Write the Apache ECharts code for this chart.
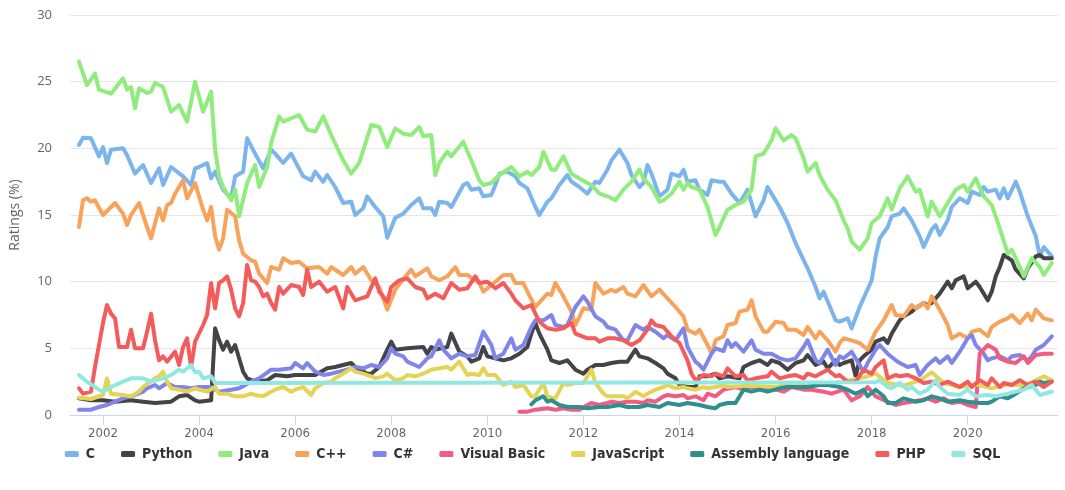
<!DOCTYPE html>
<html><head><meta charset="utf-8">
<script src="https://cdn.jsdelivr.net/npm/echarts@6/dist/echarts.min.js"></script>
<style>html,body{margin:0;padding:0;background:#fff}#c{width:1065px;height:490px}</style>
</head><body><div id="c"></div>
<script>
const yearTicks = [2002,2004,2006,2008,2010,2012,2014,2016,2018,2020];
const yTicks = [0,5,10,15,20,25,30];
const names = ["C","Python","Java","C++","C#","Visual Basic","JavaScript","Assembly language","PHP","SQL"];
const colors = ["#7cb5ec","#434348","#90ed7d","#f7a35c","#8085e9","#f15c80","#e4d354","#2b908f","#f45b5b","#91e8e1"];

const cData = [["2001-07",20.25],["2001-08",20.8],["2001-10",20.75],["2001-12",19.4],["2002-01",20.1],["2002-02",18.9],["2002-03",19.9],["2002-06",20.0],["2002-07",19.5],["2002-09",18.1],["2002-11",18.75],["2003-01",17.4],["2003-03",18.5],["2003-04",17.25],["2003-06",18.6],["2003-09",17.9],["2003-11",17.25],["2003-12",18.5],["2004-01",18.6],["2004-03",18.9],["2004-04",17.75],["2004-05",18.25],["2004-07",16.9],["2004-09",16.25],["2004-10",17.9],["2004-12",18.25],["2005-01",20.75],["2005-03",19.6],["2005-05",18.5],["2005-07",19.9],["2005-08",19.6],["2005-10",18.9],["2005-12",19.6],["2006-03",17.9],["2006-05",17.6],["2006-06",18.25],["2006-08",17.5],["2006-09",18.0],["2006-11",17.1],["2007-01",15.9],["2007-03",16.0],["2007-04",15.0],["2007-06",15.5],["2007-07",16.4],["2007-09",15.6],["2007-11",14.9],["2007-12",13.3],["2008-02",14.8],["2008-04",15.1],["2008-06",15.75],["2008-08",16.25],["2008-09",15.5],["2008-11",15.5],["2008-12",15.0],["2009-01",16.0],["2009-03",15.9],["2009-04",15.6],["2009-07",17.25],["2009-08",17.4],["2009-09",16.9],["2009-11",17.0],["2009-12",16.4],["2010-02",16.5],["2010-03",17.25],["2010-04",18.1],["2010-06",18.25],["2010-08",17.9],["2010-09",17.4],["2010-11",17.0],["2011-01",15.6],["2011-02",15.0],["2011-04",16.0],["2011-05",16.25],["2011-06",16.75],["2011-07",17.25],["2011-09",18.0],["2011-10",17.5],["2011-12",17.1],["2012-02",16.6],["2012-04",17.5],["2012-05",17.4],["2012-07",18.4],["2012-08",19.1],["2012-10",19.9],["2012-12",18.9],["2013-01",18.0],["2013-03",17.1],["2013-04",17.4],["2013-05",18.75],["2013-06",18.1],["2013-08",16.4],["2013-10",16.9],["2013-11",18.1],["2014-01",17.9],["2014-02",18.4],["2014-03",17.5],["2014-05",17.6],["2014-06",16.9],["2014-08",16.5],["2014-09",17.6],["2014-11",17.5],["2014-12",17.5],["2015-02",16.6],["2015-04",15.9],["2015-06",16.9],["2015-08",14.9],["2015-10",16.1],["2015-11",17.1],["2016-02",15.6],["2016-04",14.4],["2016-06",12.9],["2016-07",12.25],["2016-09",11.0],["2016-11",9.6],["2016-12",8.75],["2017-01",9.25],["2017-04",7.1],["2017-05",7.0],["2017-07",7.25],["2017-08",6.5],["2017-10",8.1],["2018-01",10.1],["2018-02",11.9],["2018-03",13.25],["2018-05",14.1],["2018-06",14.9],["2018-08",15.1],["2018-09",15.5],["2018-11",14.6],["2019-01",13.4],["2019-02",12.6],["2019-04",13.9],["2019-05",14.25],["2019-06",13.5],["2019-08",14.6],["2019-09",15.6],["2019-11",16.25],["2020-01",15.9],["2020-02",16.75],["2020-04",16.5],["2020-05",17.1],["2020-06",16.75],["2020-08",16.9],["2020-09",16.25],["2020-10",17.0],["2020-11",16.25],["2021-01",17.5],["2021-02",16.75],["2021-04",14.9],["2021-06",13.4],["2021-07",11.9],["2021-08",12.6],["2021-10",11.9]];

const pythonData = [["2001-07",1.25],["2001-10",1.1],["2002-01",1.1],["2002-04",1.0],["2002-08",1.1],["2002-11",1.0],["2003-02",0.9],["2003-06",1.0],["2003-08",1.4],["2003-10",1.5],["2003-12",1.1],["2004-01",1.0],["2004-04",1.1],["2004-05",6.5],["2004-06",5.6],["2004-07",4.9],["2004-08",5.5],["2004-09",4.75],["2004-10",5.25],["2004-12",3.25],["2005-01",2.75],["2005-03",2.5],["2005-06",2.6],["2005-08",3.0],["2005-11",2.9],["2006-01",3.0],["2006-04",3.0],["2006-06",3.0],["2006-09",3.5],["2006-11",3.6],["2007-01",3.75],["2007-03",3.9],["2007-04",3.6],["2007-07",3.1],["2007-08",3.1],["2007-10",3.6],["2007-12",4.9],["2008-01",5.5],["2008-02",4.9],["2008-05",5.0],["2008-09",5.1],["2008-10",4.6],["2008-11",5.1],["2008-12",4.9],["2009-03",5.1],["2009-04",6.1],["2009-06",4.75],["2009-08",4.4],["2009-09",4.0],["2009-11",4.25],["2009-12",5.1],["2010-01",4.4],["2010-03",4.25],["2010-05",4.1],["2010-07",4.25],["2010-09",4.6],["2010-11",5.1],["2010-12",6.1],["2011-01",6.9],["2011-02",6.1],["2011-04",4.9],["2011-05",4.1],["2011-07",3.9],["2011-09",4.1],["2011-10",3.75],["2011-11",3.4],["2012-01",3.1],["2012-02",3.4],["2012-04",3.75],["2012-06",3.75],["2012-08",3.9],["2012-10",4.0],["2012-12",4.0],["2013-02",4.9],["2013-03",4.4],["2013-05",4.25],["2013-07",3.9],["2013-09",3.5],["2013-10",3.1],["2013-12",2.75],["2014-01",2.25],["2014-03",2.1],["2014-05",2.1],["2014-06",2.9],["2014-08",2.9],["2014-10",3.1],["2014-11",2.75],["2015-01",2.9],["2015-04",2.75],["2015-05",3.6],["2015-07",3.9],["2015-09",4.1],["2015-11",3.75],["2015-12",4.1],["2016-02",3.9],["2016-04",3.4],["2016-06",3.9],["2016-08",4.1],["2016-09",4.5],["2016-11",3.75],["2017-01",4.0],["2017-02",3.5],["2017-04",4.1],["2017-05",3.75],["2017-06",3.9],["2017-08",4.1],["2017-09",2.9],["2017-10",4.1],["2017-11",4.4],["2018-01",4.9],["2018-02",5.5],["2018-04",5.75],["2018-05",5.4],["2018-06",6.1],["2018-08",7.1],["2018-09",7.4],["2018-11",7.75],["2018-12",8.0],["2019-02",8.4],["2019-03",8.25],["2019-04",8.4],["2019-06",9.1],["2019-08",10.0],["2019-09",9.5],["2019-10",10.1],["2019-12",10.4],["2020-01",9.5],["2020-03",10.0],["2020-04",9.6],["2020-06",8.6],["2020-07",9.25],["2020-08",10.4],["2020-09",11.1],["2020-10",12.0],["2020-12",11.6],["2021-01",10.9],["2021-03",10.25],["2021-04",11.0],["2021-06",11.9],["2021-07",12.0],["2021-08",11.75],["2021-10",11.75]];

const javaData = [["2001-07",26.5],["2001-09",24.75],["2001-11",25.6],["2001-12",24.4],["2002-03",24.1],["2002-06",25.25],["2002-07",24.4],["2002-08",24.6],["2002-09",23.0],["2002-10",24.5],["2002-12",24.15],["2003-01",24.25],["2003-02",24.9],["2003-04",24.6],["2003-06",22.75],["2003-08",23.25],["2003-10",22.0],["2003-12",25.0],["2004-02",22.75],["2004-04",24.25],["2004-05",19.9],["2004-06",17.9],["2004-07",17.1],["2004-09",16.1],["2004-10",16.9],["2004-11",14.9],["2005-01",17.4],["2005-03",18.75],["2005-04",17.1],["2005-06",18.6],["2005-07",20.4],["2005-09",22.4],["2005-10",22.0],["2006-02",22.5],["2006-04",21.4],["2006-06",21.25],["2006-08",22.4],["2006-10",21.0],["2007-01",19.1],["2007-03",18.1],["2007-05",18.9],["2007-08",21.75],["2007-10",21.6],["2007-12",20.1],["2008-02",21.5],["2008-04",21.1],["2008-06",21.0],["2008-08",21.6],["2008-09",20.9],["2008-11",21.0],["2008-12",18.0],["2009-01",18.9],["2009-03",19.75],["2009-04",19.4],["2009-07",20.5],["2009-09",19.1],["2009-11",17.6],["2009-12",17.25],["2010-02",17.4],["2010-04",18.0],["2010-07",18.6],["2010-09",17.9],["2010-11",18.25],["2010-12",18.0],["2011-02",18.6],["2011-03",19.75],["2011-05",18.4],["2011-06",18.4],["2011-08",19.4],["2011-10",18.1],["2011-11",17.9],["2012-02",17.4],["2012-03",17.25],["2012-05",16.6],["2012-07",16.4],["2012-09",16.1],["2012-11",16.9],["2013-01",17.5],["2013-03",18.4],["2013-04",17.75],["2013-06",17.1],["2013-08",16.0],["2013-09",16.1],["2013-11",16.6],["2014-01",17.5],["2014-02",16.9],["2014-03",17.4],["2014-04",17.1],["2014-06",16.9],["2014-08",15.6],["2014-10",13.5],["2014-11",14.1],["2015-01",15.4],["2015-03",15.75],["2015-05",16.0],["2015-07",16.9],["2015-08",19.4],["2015-10",19.6],["2015-12",20.6],["2016-01",21.5],["2016-03",20.6],["2016-05",21.0],["2016-06",20.75],["2016-08",19.25],["2016-09",18.25],["2016-11",18.9],["2016-12",18.0],["2017-02",16.9],["2017-04",16.1],["2017-06",14.6],["2017-07",14.0],["2017-08",13.0],["2017-10",12.4],["2017-12",13.25],["2018-01",14.4],["2018-03",14.9],["2018-05",16.25],["2018-06",15.4],["2018-08",17.0],["2018-10",17.9],["2018-12",16.75],["2019-01",16.9],["2019-03",14.9],["2019-04",16.0],["2019-06",14.9],["2019-09",16.4],["2019-10",16.9],["2019-12",17.25],["2020-01",16.75],["2020-03",17.75],["2020-05",16.4],["2020-07",15.75],["2020-09",14.0],["2020-11",12.1],["2020-12",12.4],["2021-02",11.1],["2021-03",10.4],["2021-05",11.75],["2021-07",11.1],["2021-08",10.5],["2021-10",11.4]];

const cppData = [["2001-07",14.1],["2001-08",16.1],["2001-09",16.25],["2001-10",16.0],["2001-11",16.1],["2002-01",15.0],["2002-04",15.9],["2002-06",15.1],["2002-07",14.25],["2002-08",15.0],["2002-10",15.9],["2002-12",14.1],["2003-01",13.25],["2003-03",15.5],["2003-04",14.6],["2003-05",15.75],["2003-06",15.9],["2003-07",16.6],["2003-09",17.6],["2003-10",16.25],["2003-12",17.4],["2004-01",16.4],["2004-02",15.4],["2004-03",14.6],["2004-04",15.6],["2004-05",13.4],["2004-06",12.4],["2004-07",13.25],["2004-08",15.4],["2004-10",14.9],["2004-11",13.1],["2004-12",12.1],["2005-02",11.6],["2005-03",11.5],["2005-04",10.6],["2005-06",9.9],["2005-07",11.1],["2005-09",10.9],["2005-10",11.75],["2005-12",11.4],["2006-02",11.5],["2006-04",11.0],["2006-07",11.1],["2006-09",10.6],["2006-10",11.1],["2007-01",10.5],["2007-03",11.1],["2007-04",10.6],["2007-06",11.1],["2007-08",10.1],["2007-10",9.6],["2007-12",7.9],["2008-02",9.4],["2008-04",10.2],["2008-06",10.9],["2008-07",10.4],["2008-10",11.0],["2008-11",10.4],["2009-01",10.1],["2009-03",10.4],["2009-05",11.1],["2009-06",10.5],["2009-08",10.5],["2009-10",10.1],["2009-11",9.9],["2009-12",9.25],["2010-02",9.75],["2010-03",10.0],["2010-05",10.5],["2010-07",10.5],["2010-08",9.9],["2010-10",9.9],["2010-11",9.25],["2011-01",8.1],["2011-04",9.1],["2011-05",9.0],["2011-06",9.9],["2011-08",8.9],["2011-10",7.75],["2011-11",6.75],["2012-01",8.0],["2012-03",7.9],["2012-04",9.9],["2012-06",9.1],["2012-08",9.4],["2012-09",9.25],["2012-11",9.6],["2012-12",9.1],["2013-02",8.9],["2013-04",9.75],["2013-06",8.9],["2013-08",9.4],["2013-10",8.75],["2013-12",8.1],["2014-02",7.4],["2014-03",6.4],["2014-05",6.1],["2014-06",6.4],["2014-08",5.25],["2014-09",4.6],["2014-10",5.6],["2014-12",5.9],["2015-01",6.75],["2015-03",6.9],["2015-04",7.75],["2015-06",7.9],["2015-07",8.6],["2015-08",7.4],["2015-10",6.25],["2015-11",6.25],["2016-01",7.0],["2016-03",6.9],["2016-04",6.4],["2016-06",6.4],["2016-08",6.0],["2016-09",6.6],["2016-11",5.75],["2016-12",6.25],["2017-02",5.6],["2017-04",4.75],["2017-05",5.4],["2017-06",5.75],["2017-08",5.6],["2017-10",5.4],["2017-12",4.9],["2018-01",5.6],["2018-02",6.25],["2018-04",7.1],["2018-06",8.25],["2018-07",7.5],["2018-09",7.4],["2018-11",8.25],["2018-12",8.0],["2019-02",8.4],["2019-03",8.0],["2019-04",8.9],["2019-06",7.9],["2019-08",6.75],["2019-09",5.75],["2019-11",6.1],["2020-01",5.75],["2020-02",6.25],["2020-04",6.4],["2020-06",5.9],["2020-07",6.6],["2020-09",7.0],["2020-11",7.25],["2020-12",7.5],["2021-02",6.9],["2021-04",7.6],["2021-05",7.1],["2021-06",7.9],["2021-08",7.25],["2021-10",7.1]];

const csharpData = [["2001-07",0.4],["2001-10",0.4],["2001-12",0.6],["2002-02",0.75],["2002-04",1.0],["2002-06",1.25],["2002-09",1.5],["2002-11",1.75],["2002-12",2.0],["2003-02",2.25],["2003-03",2.0],["2003-05",2.4],["2003-07",2.1],["2003-09",2.1],["2003-11",2.0],["2004-01",2.1],["2004-04",2.1],["2004-06",1.75],["2004-09",1.9],["2004-11",2.0],["2005-02",2.5],["2005-04",2.75],["2005-07",3.4],["2005-09",3.4],["2005-12",3.5],["2006-01",3.9],["2006-03",3.5],["2006-04",3.9],["2006-06",3.25],["2006-08",3.0],["2006-10",3.1],["2006-12",3.25],["2007-02",3.4],["2007-04",3.6],["2007-06",3.5],["2007-08",3.75],["2007-10",3.6],["2007-12",4.25],["2008-01",5.0],["2008-02",4.6],["2008-04",4.4],["2008-05",4.0],["2008-08",3.6],["2008-10",4.25],["2008-11",4.4],["2009-01",5.6],["2009-02",4.9],["2009-04",4.25],["2009-06",4.6],["2009-08",4.4],["2009-10",4.5],["2009-12",6.25],["2010-02",5.25],["2010-03",4.25],["2010-05",4.6],["2010-07",5.75],["2010-08",4.9],["2010-10",5.25],["2010-12",6.6],["2011-01",7.1],["2011-03",7.1],["2011-05",7.5],["2011-06",6.75],["2011-08",6.6],["2011-09",6.75],["2011-11",8.1],["2012-01",8.9],["2012-02",8.5],["2012-04",7.4],["2012-06",7.0],["2012-07",6.6],["2012-09",6.4],["2012-11",5.6],["2012-12",5.6],["2013-02",6.75],["2013-04",6.4],["2013-05",6.6],["2013-07",6.25],["2013-09",5.75],["2013-10",6.0],["2013-12",5.6],["2014-02",6.5],["2014-03",5.1],["2014-05",4.0],["2014-06",3.75],["2014-07",3.4],["2014-09",4.6],["2014-10",5.0],["2014-12",4.8],["2015-01",5.6],["2015-02",5.1],["2015-03",5.4],["2015-05",4.75],["2015-07",5.6],["2015-08",4.9],["2015-10",4.6],["2015-12",4.6],["2016-02",4.25],["2016-04",4.1],["2016-06",4.25],["2016-08",5.1],["2016-09",5.6],["2016-11",4.1],["2016-12",3.9],["2017-02",4.9],["2017-04",3.75],["2017-05",4.4],["2017-06",4.25],["2017-08",4.75],["2017-10",3.75],["2017-11",3.25],["2017-12",3.9],["2018-02",4.9],["2018-03",5.25],["2018-05",4.6],["2018-07",4.1],["2018-08",3.9],["2018-10",3.6],["2018-12",3.75],["2019-01",3.0],["2019-03",3.75],["2019-05",4.25],["2019-06",3.9],["2019-08",4.4],["2019-09",3.9],["2019-11",4.75],["2020-01",5.75],["2020-02",6.0],["2020-03",5.25],["2020-05",4.6],["2020-06",4.1],["2020-07",4.25],["2020-09",4.4],["2020-11",4.1],["2020-12",4.4],["2021-02",4.5],["2021-04",4.1],["2021-05",4.4],["2021-06",4.9],["2021-08",5.25],["2021-10",5.9]];

const vbData = [["2010-09",0.25],["2010-11",0.25],["2011-01",0.4],["2011-04",0.5],["2011-06",0.4],["2011-08",0.5],["2011-10",0.4],["2011-12",0.4],["2012-02",0.75],["2012-03",0.9],["2012-05",0.75],["2012-07",0.9],["2012-08",1.0],["2012-10",0.9],["2012-12",1.0],["2013-02",1.0],["2013-04",0.9],["2013-05",1.1],["2013-07",1.0],["2013-09",1.4],["2013-10",1.5],["2013-12",1.4],["2014-02",1.5],["2014-03",1.25],["2014-05",1.4],["2014-07",1.1],["2014-08",1.6],["2014-10",1.4],["2014-12",1.9],["2015-03",2.1],["2015-05",1.9],["2015-07",2.1],["2015-10",1.9],["2015-12",2.0],["2016-03",1.75],["2016-05",2.1],["2016-08",1.9],["2016-10",1.9],["2017-01",1.75],["2017-03",1.6],["2017-06",1.9],["2017-08",1.1],["2017-10",1.4],["2017-12",2.1],["2018-02",1.4],["2018-05",1.0],["2018-07",0.75],["2018-09",0.9],["2018-11",1.0],["2019-01",1.1],["2019-03",1.25],["2019-05",1.0],["2019-07",1.25],["2019-09",0.9],["2019-11",1.0],["2020-01",0.75],["2020-03",0.6],["2020-04",4.6],["2020-06",5.25],["2020-08",4.9],["2020-09",4.25],["2020-11",4.0],["2021-01",3.9],["2021-03",4.4],["2021-04",3.9],["2021-06",4.5],["2021-08",4.6],["2021-10",4.6]];

const jsData = [["2001-07",1.3],["2001-10",1.2],["2002-01",1.5],["2002-02",2.75],["2002-03",1.6],["2002-06",1.5],["2002-08",1.4],["2002-10",1.75],["2002-11",2.1],["2003-02",2.75],["2003-03",2.9],["2003-04",3.25],["2003-05",2.5],["2003-06",2.0],["2003-08",1.9],["2003-10",1.75],["2003-12",2.0],["2004-01",1.9],["2004-03",1.75],["2004-05",2.1],["2004-06",1.6],["2004-08",1.6],["2004-10",1.4],["2004-12",1.4],["2005-02",1.6],["2005-03",1.5],["2005-05",1.4],["2005-07",1.75],["2005-08",1.9],["2005-10",2.1],["2005-12",1.75],["2006-01",1.9],["2006-03",2.1],["2006-05",1.5],["2006-06",2.0],["2006-08",2.4],["2006-10",2.5],["2006-11",2.75],["2007-01",3.1],["2007-03",3.5],["2007-04",3.25],["2007-06",3.1],["2007-08",2.9],["2007-09",2.75],["2007-11",2.9],["2007-12",3.1],["2008-02",2.6],["2008-04",2.75],["2008-05",3.0],["2008-07",2.9],["2008-09",3.1],["2008-11",3.4],["2009-01",3.5],["2009-03",3.6],["2009-04",3.4],["2009-06",4.0],["2009-08",3.0],["2009-09",3.1],["2009-11",3.0],["2009-12",3.5],["2010-01",3.0],["2010-03",3.0],["2010-05",2.25],["2010-07",2.5],["2010-08",2.1],["2010-10",2.25],["2010-12",1.4],["2011-01",1.4],["2011-03",2.4],["2011-04",1.4],["2011-06",1.25],["2011-08",2.4],["2011-09",2.25],["2011-11",2.4],["2012-01",2.4],["2012-03",3.4],["2012-04",2.4],["2012-06",1.6],["2012-07",1.4],["2012-09",1.4],["2012-11",1.4],["2012-12",1.25],["2013-02",1.75],["2013-04",1.4],["2013-05",1.6],["2013-07",1.9],["2013-09",2.1],["2013-10",2.25],["2013-12",2.0],["2014-02",2.1],["2014-03",2.0],["2014-05",1.9],["2014-07",2.1],["2014-08",2.0],["2014-10",2.1],["2014-12",2.25],["2015-01",2.1],["2015-06",2.2],["2016-01",2.1],["2016-06",2.4],["2017-01",2.3],["2017-06",2.5],["2017-12",2.9],["2018-02",3.1],["2018-05",2.4],["2018-09",2.2],["2019-01",2.6],["2019-04",3.2],["2019-07",2.4],["2019-11",2.1],["2020-03",2.3],["2020-07",2.0],["2020-11",2.3],["2021-03",2.2],["2021-06",2.6],["2021-08",2.9],["2021-10",2.6]];

const asmData = [["2010-12",0.8],["2011-01",1.1],["2011-03",1.4],["2011-04",1.0],["2011-05",1.1],["2011-07",0.75],["2011-09",0.6],["2011-12",0.6],["2012-02",0.5],["2012-05",0.6],["2012-07",0.6],["2012-10",0.75],["2012-12",0.6],["2013-03",0.6],["2013-05",0.75],["2013-08",0.6],["2013-10",0.9],["2014-01",0.75],["2014-03",0.9],["2014-06",0.75],["2014-08",0.6],["2014-10",0.5],["2014-11",0.75],["2015-01",0.9],["2015-03",0.9],["2015-05",1.9],["2015-07",1.75],["2015-09",1.9],["2015-11",1.75],["2016-02",2.0],["2016-04",2.1],["2016-07",2.1],["2016-09",2.1],["2016-12",2.25],["2017-02",2.25],["2017-05",2.1],["2017-07",1.9],["2017-09",1.6],["2017-11",1.9],["2017-12",1.4],["2018-02",1.9],["2018-04",1.4],["2018-05",0.9],["2018-07",0.9],["2018-09",1.25],["2018-12",1.0],["2019-02",1.1],["2019-04",1.4],["2019-06",1.25],["2019-08",1.0],["2019-11",1.1],["2020-01",1.0],["2020-04",0.9],["2020-06",0.9],["2020-07",1.0],["2020-09",1.4],["2020-11",1.25],["2021-01",1.6],["2021-03",2.0],["2021-06",2.25],["2021-07",2.5],["2021-08",2.4],["2021-10",2.5]];

const phpData = [["2001-07",2.0],["2001-08",1.6],["2001-10",1.75],["2001-11",3.6],["2002-01",6.9],["2002-02",8.25],["2002-03",7.6],["2002-04",7.25],["2002-05",5.1],["2002-07",5.1],["2002-08",6.4],["2002-09",5.0],["2002-11",5.0],["2002-12",6.25],["2003-01",7.6],["2003-02",5.6],["2003-03",4.1],["2003-04",4.4],["2003-05",4.0],["2003-07",4.75],["2003-08",3.75],["2003-09",5.1],["2003-10",5.75],["2003-11",3.6],["2003-12",5.5],["2004-02",6.75],["2004-03",7.5],["2004-04",9.9],["2004-05",8.0],["2004-06",9.9],["2004-07",10.1],["2004-08",10.4],["2004-09",9.4],["2004-10",8.0],["2004-11",7.4],["2004-12",8.4],["2005-01",11.25],["2005-02",10.1],["2005-03",10.0],["2005-04",9.6],["2005-05",8.9],["2005-06",9.1],["2005-07",8.4],["2005-08",7.9],["2005-09",9.6],["2005-10",9.1],["2005-12",9.75],["2006-02",9.6],["2006-03",9.0],["2006-04",10.9],["2006-05",9.6],["2006-07",10.0],["2006-09",9.25],["2006-11",9.6],["2007-01",8.0],["2007-02",9.6],["2007-04",8.6],["2007-07",8.9],["2007-09",10.25],["2007-10",9.25],["2007-12",8.5],["2008-01",9.6],["2008-03",10.1],["2008-05",10.25],["2008-07",9.6],["2008-09",9.4],["2008-10",8.75],["2008-12",9.1],["2009-02",8.75],["2009-04",9.9],["2009-06",9.4],["2009-08",9.5],["2009-10",10.4],["2009-11",9.9],["2010-01",10.0],["2010-03",9.5],["2010-05",9.9],["2010-07",9.1],["2010-08",8.6],["2010-10",8.0],["2010-12",8.25],["2011-01",7.6],["2011-02",7.0],["2011-04",6.5],["2011-06",6.4],["2011-08",6.5],["2011-10",6.9],["2011-11",6.1],["2012-02",5.75],["2012-04",5.75],["2012-05",5.5],["2012-07",5.75],["2012-09",5.75],["2012-11",5.6],["2013-01",5.25],["2013-03",5.6],["2013-05",6.4],["2013-06",7.1],["2013-07",6.75],["2013-09",6.6],["2013-11",5.9],["2014-01",5.4],["2014-03",4.1],["2014-04",3.1],["2014-05",2.6],["2014-07",3.0],["2014-09",2.9],["2014-10",3.1],["2014-12",2.9],["2015-01",3.5],["2015-03",2.9],["2015-05",3.0],["2015-06",2.6],["2015-08",2.75],["2015-11",2.9],["2015-12",3.25],["2016-02",2.75],["2016-04",2.9],["2016-06",3.0],["2016-08",2.75],["2016-09",3.1],["2016-11",2.9],["2017-02",3.4],["2017-04",2.9],["2017-05",3.0],["2017-07",2.5],["2017-09",2.5],["2017-11",3.4],["2018-01",3.1],["2018-02",3.6],["2018-04",4.1],["2018-05",2.75],["2018-07",3.0],["2018-08",2.9],["2018-10",3.0],["2018-12",2.75],["2019-02",2.4],["2019-04",2.5],["2019-06",2.25],["2019-08",2.5],["2019-11",2.1],["2020-01",2.5],["2020-02",2.1],["2020-04",2.6],["2020-06",2.25],["2020-07",2.75],["2020-09",2.1],["2020-10",2.4],["2020-12",2.25],["2021-02",2.6],["2021-04",2.25],["2021-06",2.5],["2021-08",2.1],["2021-10",2.5]];

const sqlData = [["2001-07",3.0],["2001-09",2.5],["2001-12",1.9],["2002-01",1.75],["2002-03",2.1],["2002-06",2.5],["2002-08",2.75],["2002-11",2.75],["2003-01",2.5],["2003-04",2.75],["2003-06",3.0],["2003-08",3.4],["2003-09",3.25],["2003-11",3.75],["2003-12",3.2],["2004-01",3.25],["2004-02",2.75],["2004-04",2.9],["2004-05",2.4],["2018-02",2.45],["2018-03",2.6],["2018-05",2.1],["2018-06",2.0],["2018-08",2.4],["2018-10",1.9],["2018-11",2.1],["2019-01",1.6],["2019-03",1.9],["2019-05",2.6],["2019-06",2.1],["2019-08",1.6],["2019-11",1.5],["2020-01",1.9],["2020-03",1.4],["2020-06",1.5],["2020-08",1.4],["2020-11",1.6],["2021-01",1.75],["2021-03",1.9],["2021-05",2.25],["2021-07",1.5],["2021-10",1.75]];

const seriesData = [cData, pythonData, javaData, cppData, csharpData, vbData, jsData, asmData, phpData, sqlData];

function toYear(s){ const p = s.split('-'); return (+p[0]) + (+p[1]-1)/12; }

const FONT = "'Liberation Sans Narrow','DejaVu Sans Condensed','Roboto Condensed','Liberation Sans',sans-serif";

const chart = echarts.init(document.getElementById('c'), null, {renderer:'canvas'});
chart.setOption({
  animation:false,
  backgroundColor:'#ffffff',
  color: colors,
  grid:{left:70, right:7, top:15, bottom:75, containLabel:false},
  legend:{
    bottom:24, left:'center', itemGap:26, itemWidth:14, itemHeight:6, icon:'roundRect',
    textStyle:{color:'#333333', fontSize:14, fontWeight:'bold', fontFamily:FONT, padding:[0,0,0,2]},
    data: names
  },
  xAxis:{
    type:'value', min:2001.313, max:2021.879,
    axisLine:{show:true, lineStyle:{color:'#ccd6eb', width:1}},
    axisTick:{show:true, customValues: yearTicks, length:10, lineStyle:{color:'#ccd6eb'}},
    axisLabel:{customValues: yearTicks, color:'#666666', fontSize:13, fontFamily:FONT, margin:12, formatter: v => String(Math.round(v))},
    splitLine:{show:false}
  },
  yAxis:{
    type:'value', min:0, max:30, interval:5,
    name:'Ratings (%)', nameLocation:'middle', nameGap:48, nameRotate:90,
    nameTextStyle:{color:'#666666', fontSize:14, fontFamily:"'Open Sans','DejaVu Sans',sans-serif"},
    axisLine:{show:false}, axisTick:{show:false},
    axisLabel:{color:'#666666', fontSize:13, fontFamily:"'Open Sans','DejaVu Sans',sans-serif", margin:18},
    splitLine:{lineStyle:{color:'#e6e6e6', width:1}}
  },
  series: names.map((n,i)=>({
    name:n, type:'line', showSymbol:false, symbol:'none',
    data: seriesData[i].map(d=>[toYear(d[0]), d[1]]),
    lineStyle:{width:4, color:colors[i], cap:'round', join:'round'},
    itemStyle:{color:colors[i]},
    emphasis:{disabled:true}
  }))
});
</script></body></html>
